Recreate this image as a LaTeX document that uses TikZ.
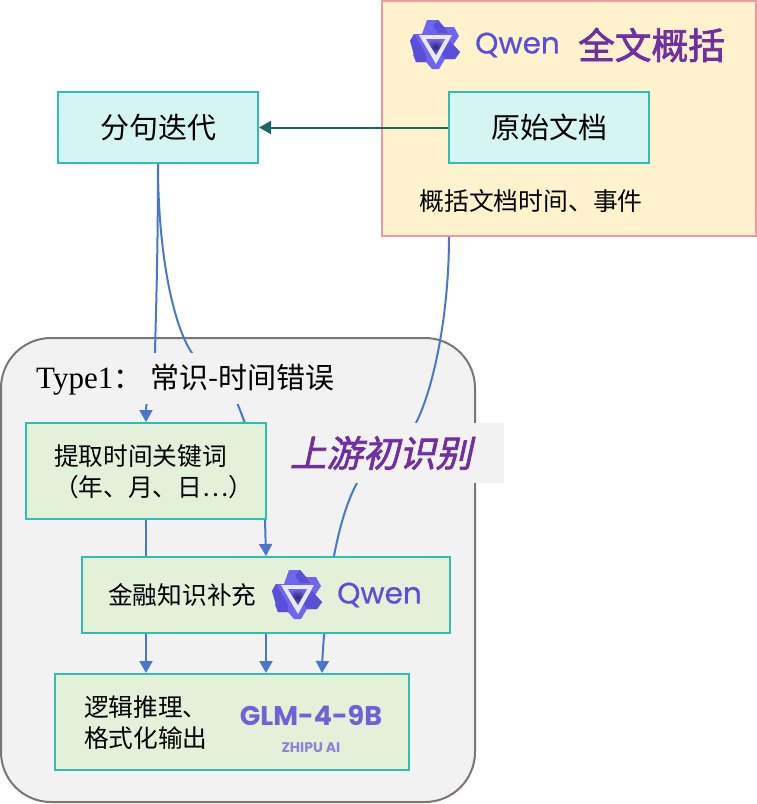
\documentclass[tikz,border=0pt]{standalone}
\usepackage{fontspec}
\setmainfont{Liberation Serif}
\newfontfamily\cjk{Noto Sans CJK SC}
\newfontfamily\cjkhead{Noto Sans CJK SC}[FakeBold=2]
\newfontfamily\cjkslant{Noto Sans CJK SC}[FakeSlant=0.22,FakeBold=2]
\newfontfamily\logof{Poppins}[FakeBold=0.7]
\newfontfamily\logob{Poppins}
\usetikzlibrary{arrows.meta,calc}
\definecolor{tealline}{HTML}{2EBFB2}
\definecolor{cyanfill}{HTML}{D4F5F1}
\definecolor{greenfill}{HTML}{E4F1D9}
\definecolor{yellowfill}{HTML}{FFF2CC}
\definecolor{pinkline}{HTML}{F0979F}
\definecolor{bluearrow}{HTML}{4A76CF}
\definecolor{darkteal}{HTML}{1B6660}
\definecolor{panel}{HTML}{F2F2F2}
\definecolor{panelline}{HTML}{7A7676}
\definecolor{purpletext}{HTML}{7030A0}
\definecolor{logoblue}{HTML}{5A4FD8}
\definecolor{logolight}{HTML}{6F66F0}
\definecolor{glm}{HTML}{6E62D6}
\tikzset{
  x=1pt,y=-1pt,
  cyanbox/.style={draw=tealline,fill=cyanfill,line width=2pt,minimum width=200pt,minimum height=71pt,inner sep=0pt,font=\cjk\fontsize{29}{30}\selectfont},
  greenbox/.style={draw=tealline,fill=greenfill,line width=2pt,inner sep=0pt},
  bluelink/.style={draw=bluearrow,line width=2pt,-{Triangle[length=12pt,width=13pt]}},
  bodytext/.style={font=\cjk\fontsize{24.7}{31}\selectfont,inner sep=0pt,anchor=west,align=left},
  qwenmark/.style={font=\logof\fontsize{29.5}{30}\selectfont,text=logoblue,inner sep=0pt,anchor=west},
  cover/.style={fill=panel,draw=none,inner sep=0pt},
  pics/qwenlogo/.style={code={
    \fill[logolight] (-8,-25) -- (3,-25) -- (9,-18) -- (19,-18) -- (24,-9) -- (18,0) -- (25,7) -- (20,14) -- (10,14) -- (4,24) -- (-3,24) -- (-9,17) -- (-19,17) -- (-22,10) -- (-18,3) -- (-25,-4) -- (-21,-11) -- (-13,-11) -- cycle;
    \fill[logoblue] (-25,-4) -- (-21,-11) -- (-9,9) -- (-9,17) -- (-19,17) -- cycle;
    \fill[logoblue] (3,-25) -- (9,-18) -- (13,-12) -- (3,-12) -- (-2,-19) -- cycle;
    \fill[logoblue] (25,7) -- (20,14) -- (10,14) -- (6,8) -- (15,-4) -- cycle;
    \fill[white!85!logolight,even odd rule] (-16,-10) -- (17,-10) -- (1,19) -- cycle (-9,-6) -- (10,-6) -- (1,10) -- cycle;
    \shade[inner color=logoblue!50!black,outer color=logolight] (-9,-6) -- (10,-6) -- (1,10) -- cycle;
  }}
}
\begin{document}
\begin{tikzpicture}
\useasboundingbox (0,0) rectangle (757,804);
% panels
\node[draw=pinkline,fill=yellowfill,line width=2pt,minimum width=374pt,minimum height=235pt,inner sep=0pt] (summary) at (569,118.5) {};
\node[draw=panelline,fill=panel,line width=2pt,rounded corners=50pt,minimum width=474pt,minimum height=464pt,inner sep=0pt] (typepanel) at (238,570) {};
% boxes (named first so connectors can refer to them; the two crossed ones are redrawn on top)
\node[cyanbox] (split) at (158,127.5) {\raisebox{-1.5pt}{分句迭代}};
\node[cyanbox] (raw) at (549,127.5) {\raisebox{-1.5pt}{原始文档}};
\node[greenbox,minimum width=240pt,minimum height=96pt] (extract) at (146,471) {};
\node[greenbox,minimum width=368pt,minimum height=76pt] (finance) at (266,595) {};
\node[greenbox,minimum width=354pt,minimum height=96pt] (logic) at (232,722) {};
\coordinate (sumout) at ($(summary.south)+(-120,0)$);
\coordinate (logicA) at ($(logic.north)+(-86,0)$);
\coordinate (logicB) at ($(logic.north)+(34,0)$);
\coordinate (logicC) at ($(logic.north)+(90,0)$);
% connectors
\draw[draw=darkteal,line width=2pt,-{Triangle[length=12pt,width=13pt]}] (raw.west) -- (split.east);
\draw[bluelink] (split.south) .. controls (158,250) and (156,310) .. (155,352) .. controls (153,380) and (146,400) .. (extract.north);
\draw[bluelink] (split.south) .. controls (158,250) and (172,320) .. (190,350) .. controls (202,370) and (230,385) .. (238,405) .. controls (252,440) and (264,480) .. (265,520) -- (finance.north);
\draw[bluelink] (sumout) .. controls (449,310) and (435,385) .. (416,423) .. controls (400,452) and (372,455) .. (357,483) .. controls (345,505) and (338,535) .. (334,556) .. controls (328,590) and (323,640) .. (logicC);
\draw[bluelink] (extract.south) -- (logicA);
\draw[bluelink] (finance.south) -- (logicB);
% label covers
\node[cover,minimum width=310pt,minimum height=51pt] (typelabel) at (185,378) {};
\node[anchor=west,inner sep=0pt,font=\fontsize{31}{32}\selectfont] (typetext) at (36,380) {Type1{\cjk\fontsize{29}{30}\selectfont ：\hspace{8pt}常识-时间错误}};
\node[cover,minimum width=224pt,minimum height=60pt] (uplabel) at (392,453) {};
\node[font=\cjkslant\fontsize{36.4}{38}\selectfont,text=purpletext,inner sep=0pt] (uptext) at (381,453) {上游初识别};
% redraw crossed boxes above connectors
\node[greenbox,minimum width=240pt,minimum height=96pt] (extractT) at (146,471) {};
\node[greenbox,minimum width=368pt,minimum height=76pt] (financeT) at (266,595) {};
% texts
\node[font=\cjkhead\fontsize{36.7}{38}\selectfont,text=purpletext,inner sep=0pt] (head) at (651.5,45) {全文概括};
\node[qwenmark] (qwenA) at (475,45) {Qwen};
\pic at (435,45) {qwenlogo};
\node[font=\cjk\fontsize{24.8}{30}\selectfont,inner sep=0pt] (sumtext) at (531,201) {概括文档时间、事件};
\node[bodytext] (extracttext) at (54,472) {提取时间关键词\\（年、月、日…）};
\node[bodytext] (fintext) at (108,595) {金融知识补充};
\pic at (297,595) {qwenlogo};
\node[qwenmark] (qwenB) at (337,595) {Qwen};
\node[bodytext] (logictext) at (84,723) {逻辑推理、\\格式化输出};
\node[font=\logob\bfseries\fontsize{27}{28}\selectfont,text=glm,inner sep=0pt] (glmtext) at (311,715) {GLM-4-9B};
\node[font=\logob\bfseries\fontsize{14}{15}\selectfont,text=glm!80!white,inner sep=0pt] (zhipu) at (311,748) {ZHIPU AI};
\end{tikzpicture}
\end{document}
